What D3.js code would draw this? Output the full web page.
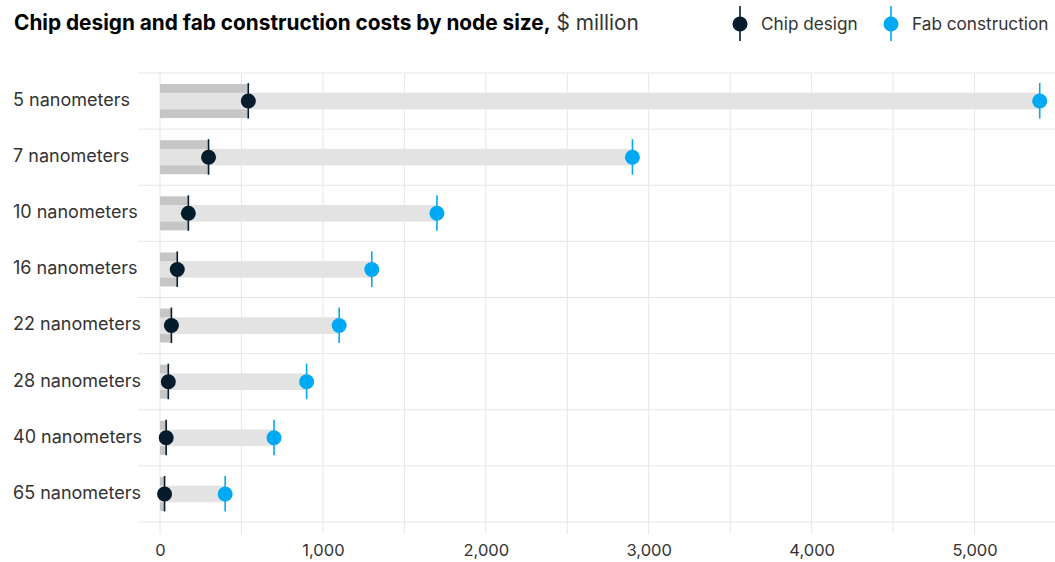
<!DOCTYPE html>
<html><head><meta charset="utf-8">
<script src="https://cdn.jsdelivr.net/npm/d3@7"></script>
<style>
body{margin:0;background:#fff;}
text{font-family:Inter,"Liberation Sans",Arial,sans-serif;}
</style></head>
<body><svg id="c" width="1055" height="562"></svg>
<script>
const categories = ["5 nanometers","7 nanometers","10 nanometers","16 nanometers","22 nanometers","28 nanometers","40 nanometers","65 nanometers"];
const chipDesign = [542, 298, 174, 106, 70, 51, 38, 28];
const fabConstruction = [5400, 2900, 1700, 1300, 1100, 900, 700, 400];
const tickValues = [0, 1000, 2000, 3000, 4000, 5000];
const gridValues = [0, 500, 1000, 1500, 2000, 2500, 3000, 3500, 4000, 4500, 5000];

const data = categories.map((c,i)=>({cat:c, design:chipDesign[i], fab:fabConstruction[i]}));
const svg = d3.select("#c");
const x = d3.scaleLinear().domain([0,5500]).range([160,1056]);
const y = d3.scaleBand().domain(categories).range([73,522]);
const dark = "#051c2c", blue = "#00a9f4";

// vertical gridlines
svg.append("g").selectAll("line").data(gridValues).join("line")
  .attr("x1",d=>x(d)).attr("x2",d=>x(d)).attr("y1",73).attr("y2",534)
  .attr("stroke","#e6e6e6").attr("stroke-width",1);
// horizontal separators
svg.append("g").selectAll("line").data(d3.range(categories.length+1)).join("line")
  .attr("x1",138).attr("x2",1055)
  .attr("y1",i=>73+i*y.step()).attr("y2",i=>73+i*y.step())
  .attr("stroke","#e6e6e6").attr("stroke-width",1);

const rows = svg.append("g").selectAll("g").data(data).join("g")
  .attr("transform",d=>`translate(0,${y(d.cat)+y.bandwidth()/2})`);
rows.append("rect").attr("x",x(0)).attr("y",-17).attr("height",34)
  .attr("width",d=>x(d.design)-x(0)).attr("fill","#c6c6c6");
rows.append("rect").attr("x",x(0)).attr("y",-8.3).attr("height",16.6)
  .attr("width",d=>x(d.fab)-x(0)).attr("fill","#e3e3e3");
rows.append("line").attr("x1",d=>x(d.design)).attr("x2",d=>x(d.design))
  .attr("y1",-18).attr("y2",17.5).attr("stroke",dark).attr("stroke-width",1.6);
rows.append("line").attr("x1",d=>x(d.fab)).attr("x2",d=>x(d.fab))
  .attr("y1",-18).attr("y2",17.5).attr("stroke",blue).attr("stroke-width",1.6);
rows.append("circle").attr("cx",d=>x(d.design)).attr("r",7.5).attr("fill",dark);
rows.append("circle").attr("cx",d=>x(d.fab)).attr("r",7.5).attr("fill",blue);
rows.append("text").attr("x",13).attr("y",-1.5).attr("dy","0.35em")
  .attr("font-size",18).attr("fill","#333").text(d=>d.cat);

// axis labels
const ax = d3.axisBottom(x).tickValues(tickValues).tickFormat(d3.format(",")).tickSize(0).tickPadding(0);
const ag = svg.append("g").attr("transform","translate(0,550)").call(ax);
ag.select(".domain").remove();
ag.selectAll("text").attr("font-size",16.5).attr("fill","#333").attr("dy","0.35em")
  .style("font-family","Inter,'Liberation Sans',Arial,sans-serif");

// title
const t = svg.append("text").attr("x",14).attr("y",30).attr("font-size",20.8).attr("fill","#000");
t.append("tspan").attr("font-weight","bold").text("Chip design and fab construction costs by node size,");
t.append("tspan").attr("fill","#333").text(" $ million");

// legend
const legend = [{label:"Chip design", color:dark, x:740},{label:"Fab construction", color:blue, x:891}];
const lg = svg.append("g").selectAll("g").data(legend).join("g")
  .attr("transform",d=>`translate(${d.x},24)`);
lg.append("line").attr("y1",-18).attr("y2",17).attr("stroke",d=>d.color).attr("stroke-width",1.6);
lg.append("circle").attr("r",7.5).attr("fill",d=>d.color);
lg.append("text").attr("x",21).attr("dy","0.35em").attr("font-size",17.2).attr("fill","#333").text(d=>d.label);
</script></body></html>
